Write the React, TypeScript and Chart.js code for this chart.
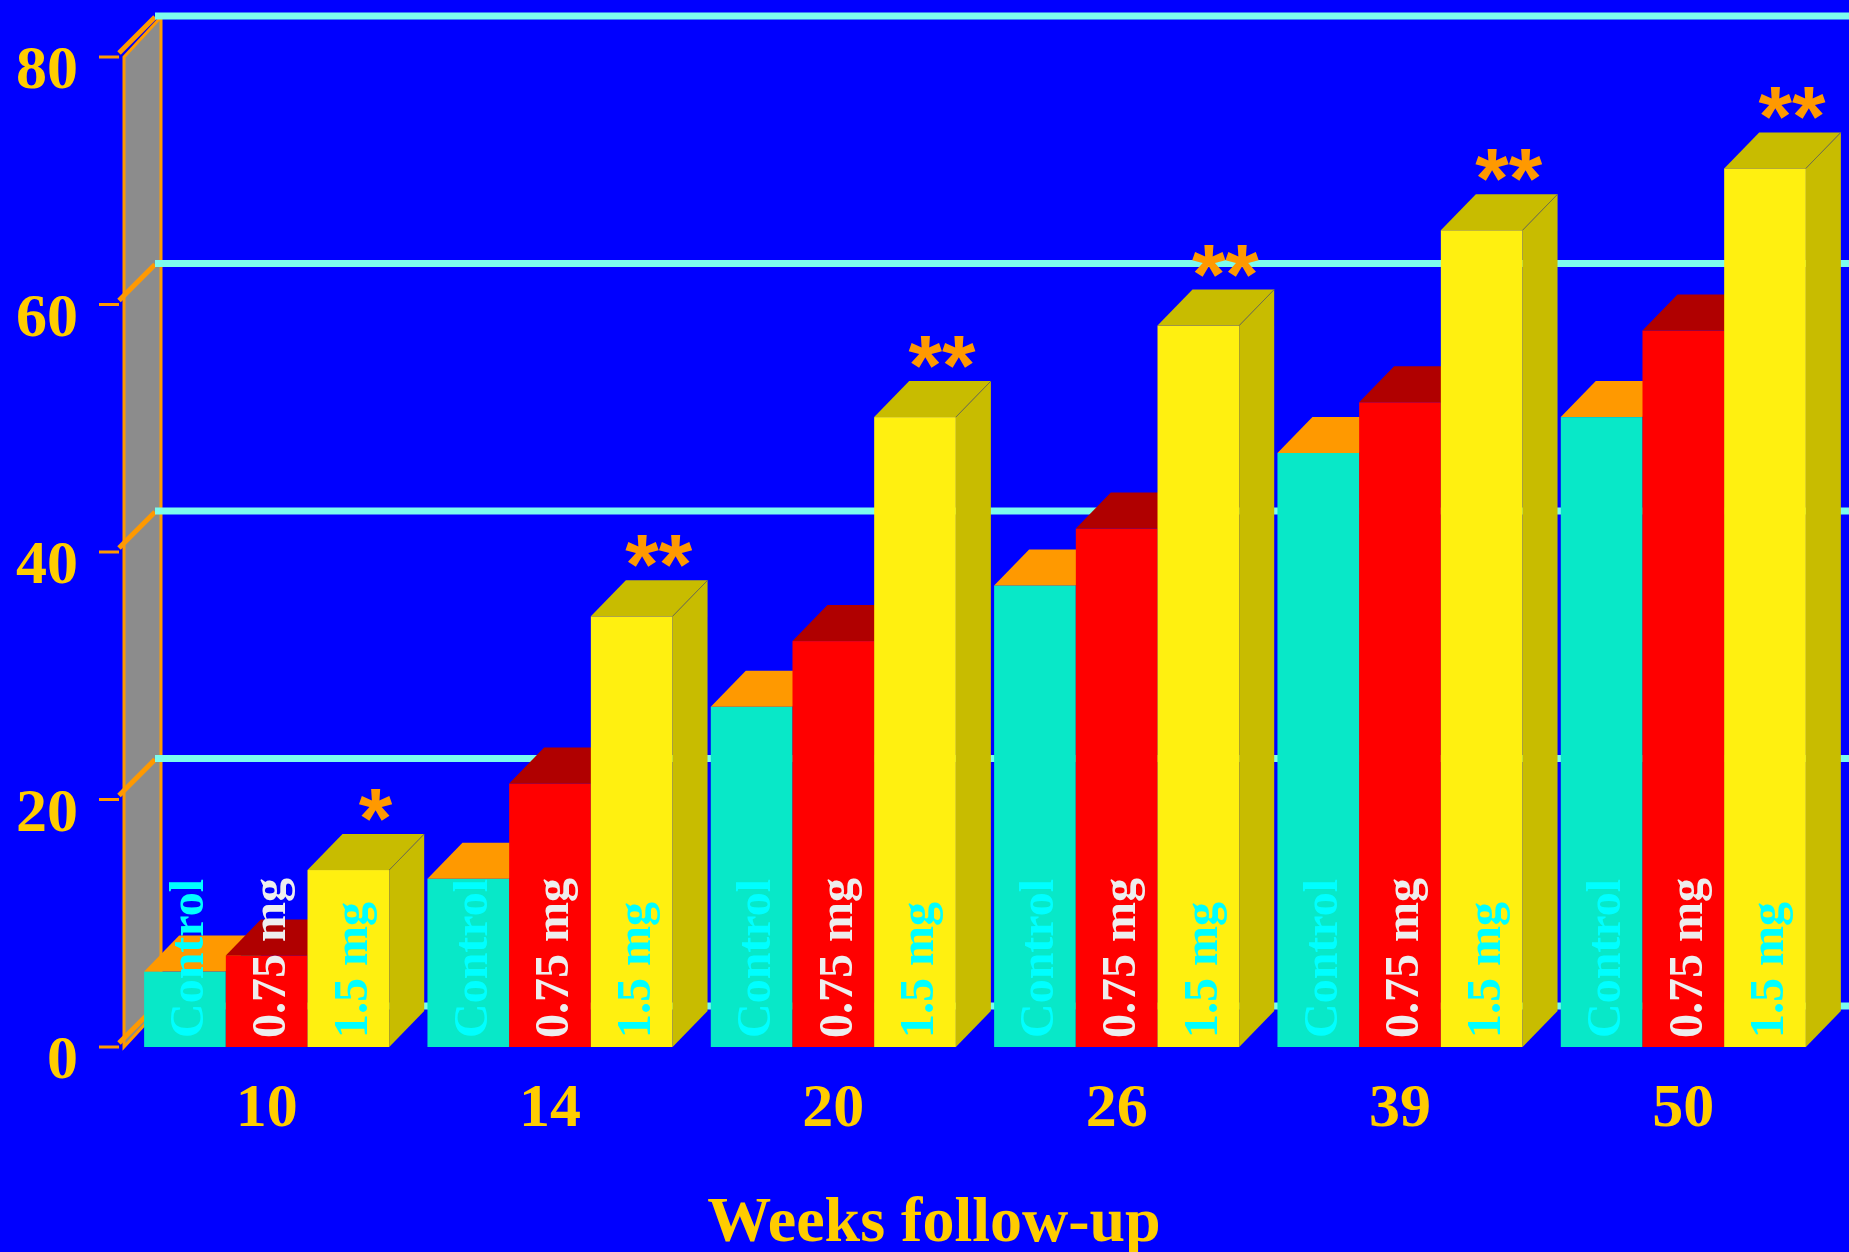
import React, { useEffect, useRef } from "react";
import { Chart, registerables } from "chart.js";

Chart.register(...registerables);

// Follow-up weeks (categories)
const weeks = ["10", "14", "20", "26", "39", "50"];
// Series values per week
const controlValues = [6.1, 13.6, 27.5, 37.3, 48.0, 50.9];
const lowDoseValues = [7.4, 21.3, 32.8, 41.9, 52.1, 57.9];
const highDoseValues = [14.3, 34.8, 50.9, 58.3, 66.0, 71.0];
// Significance markers above the 1.5 mg bars
const significance = ["*", "**", "**", "**", "**", "**"];
// Series names, also written inside each bar
const seriesNames = ["Control", "0.75 mg", "1.5 mg"];
// Value axis ticks
const yTicks = [0, 20, 40, 60, 80];
const xTitle = "Weeks follow-up";

const W = 1849;
const H = 1252;
const SERIF = '"Liberation Serif", "Times New Roman", serif';
const SANS = '"Liberation Sans", Arial, sans-serif';
const BG = "#0000FF";
const GOLD = "#FFCC00";
const ORANGE = "#FF9900";
const GRID = "#7CFCEE";
const WALL = "#8C8C8C";

const faces = [
  { front: "#08E8C8", top: "#FF9900", side: "#069E88", text: "#00FFFF" },
  { front: "#FF0000", top: "#B00000", side: "#B00000", text: "#EEEEEE" },
  { front: "#FFF010", top: "#C8BC00", side: "#C8BC00", text: "#00FFFF" },
];

// Oblique depth of bars and of the back wall / floor plane
const BAR_DX = 35;
const BAR_DY = 36;
const WALL_DX = 37;
const WALL_DY = 40;
const GRID_DY = 41;

function poly(ctx: CanvasRenderingContext2D, pts: number[][], fill: string) {
  ctx.beginPath();
  ctx.moveTo(pts[0][0], pts[0][1]);
  for (let i = 1; i < pts.length; i++) ctx.lineTo(pts[i][0], pts[i][1]);
  ctx.closePath();
  ctx.fillStyle = fill;
  ctx.fill();
}

const threeDPlugin = {
  id: "threeDBars",
  beforeDatasetsDraw(chart: any) {
    const { ctx, chartArea, scales } = chart;
    const yScale = scales.y;
    const L = chartArea.left - 1;
    const yTop = yScale.getPixelForValue(yTicks[yTicks.length - 1]);
    const yBot = yScale.getPixelForValue(0);

    ctx.save();
    // side wall
    ctx.beginPath();
    ctx.moveTo(L, yTop);
    ctx.lineTo(L + WALL_DX, yTop - WALL_DY);
    ctx.lineTo(L + WALL_DX, yBot - WALL_DY);
    ctx.lineTo(L, yBot);
    ctx.closePath();
    ctx.fillStyle = WALL;
    ctx.fill();
    ctx.strokeStyle = ORANGE;
    ctx.lineWidth = 3;
    ctx.stroke();

    ctx.lineCap = "butt";
    for (const v of yTicks) {
      const yf = yScale.getPixelForValue(v);
      // tick mark
      ctx.strokeStyle = ORANGE;
      ctx.lineWidth = 3;
      ctx.beginPath();
      ctx.moveTo(L - 25, yf);
      ctx.lineTo(L - 5, yf);
      ctx.stroke();
      // diagonal across the wall
      ctx.lineWidth = 5;
      ctx.beginPath();
      ctx.moveTo(L - 5, yf - 4);
      ctx.lineTo(L + 31, yf - 40);
      ctx.stroke();
      // back grid line
      ctx.strokeStyle = GRID;
      ctx.lineWidth = 7;
      ctx.beginPath();
      ctx.moveTo(L + 31, yf - GRID_DY);
      ctx.lineTo(chart.width, yf - GRID_DY);
      ctx.stroke();
    }

    const metas = [0, 1, 2].map((i) => chart.getDatasetMeta(i));
    const bars: any[] = [];
    for (let g = 0; g < weeks.length; g++) {
      for (let s = 0; s < 3; s++) {
        const el = metas[s].data[g];
        const p = el.getProps(["x", "y", "base", "width"], true);
        const left = p.x - p.width / 2;
        const right = p.x + p.width / 2;
        const top = p.y;
        const base = p.base;
        const f = faces[s];
        // front
        ctx.fillStyle = f.front;
        ctx.fillRect(left, top, right - left, base - top);
        // top
        poly(ctx, [[left, top], [right, top], [right + BAR_DX, top - BAR_DY], [left + BAR_DX, top - BAR_DY]], f.top);
        // side
        poly(ctx, [[right, top], [right + BAR_DX, top - BAR_DY], [right + BAR_DX, base - BAR_DY], [right, base]], f.side);
        if (s === 2) {
          ctx.strokeStyle = "rgba(110,110,70,0.9)";
          ctx.lineWidth = 1;
          ctx.beginPath();
          ctx.moveTo(right, top);
          ctx.lineTo(right + BAR_DX, top - BAR_DY);
          ctx.stroke();
        }
        bars.push({ g, s, x: p.x, top, base, right });
      }
    }

    // series names written upward inside the bars
    ctx.font = `bold 48px ${SERIF}`;
    ctx.textAlign = "left";
    ctx.textBaseline = "middle";
    for (const b of bars) {
      ctx.save();
      ctx.translate(b.x + 6, b.base - 9);
      ctx.rotate(-Math.PI / 2);
      ctx.fillStyle = faces[b.s].text;
      ctx.fillText(seriesNames[b.s], 0, 0);
      ctx.restore();
    }

    // significance markers
    ctx.font = `bold 86px ${SANS}`;
    ctx.textAlign = "center";
    ctx.textBaseline = "alphabetic";
    ctx.fillStyle = ORANGE;
    for (const b of bars) {
      if (b.s !== 2) continue;
      const txt = significance[b.g];
      const m = ctx.measureText(txt);
      const bottom = b.top - BAR_DY - 13;
      ctx.fillText(txt, b.x + 27, bottom - m.actualBoundingBoxDescent);
    }
    ctx.restore();
    return false;
  },
  afterDraw(chart: any) {
    const { ctx } = chart;
    ctx.save();
    ctx.font = `bold 64px ${SERIF}`;
    ctx.fillStyle = GOLD;
    ctx.textAlign = "center";
    ctx.textBaseline = "alphabetic";
    ctx.fillText(xTitle, 934, 1241);
    ctx.restore();
  },
};

export default function App() {
  const canvasRef = useRef<HTMLCanvasElement | null>(null);

  useEffect(() => {
    const canvas = canvasRef.current;
    if (!canvas) return;
    const chart = new Chart(canvas, {
      type: "bar",
      data: {
        labels: weeks,
        datasets: [
          { label: seriesNames[0], data: controlValues, backgroundColor: faces[0].front },
          { label: seriesNames[1], data: lowDoseValues, backgroundColor: faces[1].front },
          { label: seriesNames[2], data: highDoseValues, backgroundColor: faces[2].front },
        ],
      },
      options: {
        responsive: false,
        animation: false,
        devicePixelRatio: 1,
        layout: { padding: { top: 57, right: 24, bottom: 0, left: 0 } },
        datasets: { bar: { categoryPercentage: 0.865, barPercentage: 1 } },
        plugins: { legend: { display: false }, tooltip: { enabled: false }, title: { display: false } },
        scales: {
          x: {
            grid: { display: false, drawTicks: false },
            border: { display: false },
            ticks: {
              color: GOLD,
              padding: 26,
              font: { family: SERIF, size: 62, weight: "bold", lineHeight: 1.2 },
              maxRotation: 0,
            },
            afterFit: (scale: any) => {
              scale.height = 205;
              scale.paddingLeft = 0;
              scale.paddingRight = 0;
            },
          },
          y: {
            min: 0,
            max: 80,
            grid: { display: false, drawTicks: false },
            border: { display: false },
            ticks: {
              stepSize: 20,
              color: GOLD,
              padding: 47,
              labelOffset: 15,
              font: { family: SERIF, size: 62, weight: "bold", lineHeight: 1.2 },
            },
            afterFit: (scale: any) => {
              scale.width = 125;
              scale.paddingTop = 0;
              scale.paddingBottom = 0;
            },
          },
        },
      },
      plugins: [threeDPlugin],
    });
    return () => chart.destroy();
  }, []);

  return (
    <div style={{ position: "fixed", left: 0, top: 0, width: W, height: H, background: BG, overflow: "hidden" }}>
      <canvas ref={canvasRef} width={W} height={H} style={{ display: "block", width: W, height: H }} />
    </div>
  );
}
